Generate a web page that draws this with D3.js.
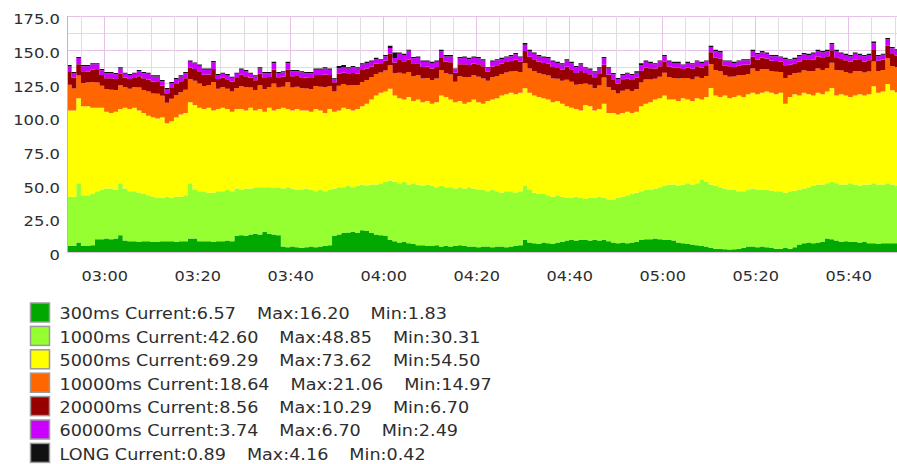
<!DOCTYPE html>
<html>
<head>
<meta charset="utf-8">
<script src="https://cdnjs.cloudflare.com/ajax/libs/d3/7.8.5/d3.min.js"></script>
<style>
  body { margin: 0; background: #fff; }
  svg { display: block; font-family: "DejaVu Sans", sans-serif; }
</style>
</head>
<body>
<svg id="chart" width="897" height="464"></svg>
<script>
// one sample per minute, first one at 02:52
const start_time = new Date(2024, 0, 1, 2, 52);
const end_time = new Date(2024, 0, 1, 5, 50, 30);

const series_names = ["300ms", "1000ms", "5000ms", "10000ms", "20000ms", "60000ms", "LONG"];
const series_colors = ["#00a800", "#96ff32", "#ffff00", "#ff6600", "#960000", "#cc00ff", "#111111"];

const ms300 = [
  4.5, 4.5, 7, 4.5, 4.5, 5, 9.5, 9.5, 10, 9.5,
  10, 12.5, 8.5, 8, 8, 7.5, 8, 8, 7.5, 7.5,
  8, 8, 8, 7.5, 8, 8, 10, 10, 8, 8,
  8, 7.5, 8, 8, 8.5, 8, 12, 12.5, 12, 13,
  13.5, 13, 15, 13.5, 13, 12.5, 4, 3.5, 4, 3.5,
  3, 3.5, 4, 3.5, 4, 4.5, 5, 12, 13, 14,
  14.5, 15, 14, 16.2, 15.5, 14, 13, 12.5, 12, 9,
  8, 7, 7.5, 6.5, 6, 5, 5, 4.5, 4.5, 5,
  4, 4.5, 4, 4.5, 5, 4.5, 4, 4, 3.5, 4,
  4, 3.5, 4, 4, 3.5, 4, 4.5, 5, 9, 7,
  6.5, 6, 7, 6.5, 6, 7, 7.5, 8.5, 9, 8.5,
  9, 9, 8.5, 9, 8.5, 9, 8, 7, 6.5, 7,
  6.5, 7, 7.5, 9, 9.5, 9.5, 10, 9.5, 9, 9,
  8.5, 7, 6.5, 6, 5.5, 5, 4.5, 4, 3, 2.5,
  2.5, 2, 1.83, 2, 2.5, 3, 4, 4, 3.5, 4,
  3.5, 3, 2.5, 2.5, 3, 2.5, 3.5, 5.5, 6.5, 7,
  6.5, 7, 7.5, 10, 9.5, 8.5, 7.5, 8, 7.5, 7.5,
  7, 7.5, 6.5, 6.5, 6, 6.5, 6.5, 6.5, 6.57
];

const ms1000 = [
  36.5, 36.5, 44, 37.5, 37.5, 38, 35.5, 36.5, 37, 37.5,
  36, 38.5, 38.5, 37, 37, 36.5, 35, 34, 33.5, 32.5,
  32, 33, 32, 33.5, 33, 34, 41, 36, 37, 37,
  36, 36.5, 37, 37, 37.5, 37, 35, 33.5, 35, 34,
  34.5, 35, 33, 34.5, 34.5, 35.5, 43, 44.5, 43, 42.5,
  43, 43.5, 42, 41.5, 42, 40.5, 41, 35, 35, 34,
  34.5, 33, 35, 33.8, 33.5, 36, 37, 38.5, 40, 44,
  44, 44, 44.5, 43.5, 45, 45, 44, 45.5, 44.5, 43,
  45, 43.5, 44, 42.5, 43, 42.5, 44, 43, 42.5, 42,
  41, 42.5, 41, 40, 41.5, 41, 39.5, 40, 40, 39,
  37.5, 37, 36, 35.5, 35, 35, 33.5, 31.5, 31, 32.5,
  31, 30.31, 31.5, 31, 32.5, 31, 31, 32, 33.5, 34,
  35.5, 36, 36.5, 36, 36.5, 36.5, 37, 38.5, 40, 41,
  41.5, 42, 43.5, 45, 44.5, 46, 48.85, 48, 47, 46.5,
  45.5, 45, 44.17, 44, 42.5, 42, 42, 43, 42.5, 42,
  42.5, 42.5, 42.5, 42.5, 41, 42.5, 42, 40.5, 40.5, 41,
  42.5, 43, 42.5, 41, 42.5, 42.5, 42.5, 42, 43.5, 42.5,
  42, 42.5, 43.5, 44.5, 44, 43.5, 44.5, 43.5, 42.6
];

const ms5000 = [
  64, 64, 63, 66, 66, 64, 62, 61, 57, 56,
  58, 55, 60, 61, 62, 61, 60, 59, 59, 59,
  60, 54.5, 57, 59, 61, 61, 60, 63, 62, 61,
  63, 61, 61, 62, 60, 59, 59, 60, 58, 60,
  57, 58, 56, 59, 57.5, 58, 60, 58, 58, 60,
  59, 58, 58, 61, 59, 58, 60, 57, 57, 59,
  57, 57, 57, 58, 61, 63, 66, 67, 67, 68,
  64, 63, 61, 65, 61, 63, 62, 62, 61, 63,
  67, 67, 65, 64, 64, 63, 63, 66, 65, 64,
  67, 67, 69, 72, 72, 73, 73, 73, 72.5, 72,
  72, 72, 71, 71, 70, 70, 69, 68, 67, 65,
  65, 69.69, 68, 65, 65, 70, 64, 64, 62, 62,
  62, 60, 60, 63, 64, 65, 66, 66, 67, 63,
  63, 63, 64, 62, 62, 63, 59.65, 63, 71.6, 67,
  67, 69, 68, 69, 71, 70, 71, 71, 71, 72,
  73, 72.5, 72, 73, 66, 70, 71.5, 70, 71, 69,
  67, 68, 67, 68, 69.6, 65, 67, 66, 64, 66,
  68, 66, 67, 72, 68, 69, 73.62, 70, 69.29
];

const ms10000 = [
  19.0, 16.3, 16.8, 17.4, 17.6, 19.0, 18.6, 16.3, 16.6, 17.3,
  16.2, 17.6, 15.2, 15.0, 15.1, 17.0, 17.2, 18.0, 17.6, 18.3,
  15.9, 15.1, 16.6, 16.4, 16.5, 17.3, 17.2, 17.9, 18.0, 17.1,
  16.6, 21.06, 15.0, 15.2, 15.0, 15.1, 15.6, 17.0, 17.1, 15.0,
  15.2, 17.6, 16.8, 15.4, 19.9, 15.9, 15.6, 19.8, 17.0, 16.6,
  16.4, 16.3, 16.8, 17.1, 17.5, 19.3, 17.0, 14.97, 18.2, 17.5,
  17.4, 18.6, 17.6, 18.1, 17.6, 16.6, 16.0, 15.1, 15.5, 17.4,
  16.5, 19.0, 19.2, 18.5, 18.4, 18.1, 17.6, 17.0, 17.5, 17.6,
  19.0, 17.5, 18.6, 15.2, 18.3, 19.6, 18.5, 18.0, 18.9, 18.6,
  15.0, 16.5, 16.4, 16.0, 16.1, 15.9, 17.3, 15.5, 18.5, 18.0,
  18.1, 17.5, 17.6, 17.9, 17.6, 16.5, 17.0, 19.7, 19.2, 18.0,
  19.6, 16.0, 16.1, 16.5, 17.4, 19.4, 19.1, 16.9, 15.5, 16.6,
  16.5, 16.4, 16.9, 17.6, 18.0, 17.0, 15.5, 16.0, 17.0, 16.5,
  16.0, 16.6, 15.0, 16.1, 16.0, 15.9, 16.0, 15.5, 17.8, 18.9,
  19.0, 15.0, 16.0, 15.1, 15.0, 16.1, 15.0, 18.0, 17.3, 17.5,
  16.5, 16.0, 16.6, 15.5, 19.1, 16.1, 15.6, 17.0, 16.8, 17.1,
  18.0, 18.1, 17.9, 17.5, 18.8, 19.0, 17.6, 17.5, 17.4, 18.0,
  17.0, 17.1, 16.9, 18.3, 16.0, 15.9, 19.0, 18.0, 18.64
];

const ms20000 = [
  9.5, 8.0, 8.4, 8.6, 8.3, 9.1, 9.4, 7.9, 8.2, 8.6,
  8.1, 8.7, 7.1, 7.2, 7.0, 8.3, 8.6, 9.0, 8.6, 8.8,
  7.6, 7.2, 8.0, 8.2, 8.1, 8.5, 8.4, 8.8, 9.0, 8.3,
  8.0, 9.7, 7.2, 7.0, 7.1, 7.2, 7.4, 8.4, 8.2, 7.3,
  7.1, 8.6, 8.2, 7.3, 10.29, 7.6, 7.5, 9.6, 8.4, 8.0,
  8.1, 7.9, 8.2, 8.2, 8.7, 9.4, 8.3, 6.9, 8.9, 8.5,
  8.6, 9.2, 8.6, 8.8, 8.5, 8.0, 7.8, 6.8, 7.5, 8.7,
  8.0, 9.4, 9.3, 9.0, 9.0, 8.8, 8.5, 8.3, 8.6, 8.5,
  9.4, 8.6, 9.1, 6.8, 9.0, 9.6, 9.2, 8.8, 9.3, 9.1,
  6.8, 8.0, 8.1, 7.8, 7.7, 7.8, 8.5, 7.5, 9.0, 8.8,
  8.8, 8.6, 8.5, 8.7, 8.5, 8.0, 8.3, 9.7, 9.3, 8.8,
  9.6, 7.8, 7.7, 8.0, 8.6, 9.5, 9.4, 8.2, 7.5, 8.0,
  8.0, 8.1, 8.3, 8.8, 8.9, 8.3, 7.5, 7.8, 8.3, 8.0,
  7.8, 8.0, 6.7, 7.7, 7.8, 7.8, 7.7, 7.5, 8.7, 9.3,
  9.4, 7.2, 7.8, 7.1, 7.2, 7.7, 7.1, 8.8, 8.5, 8.6,
  8.0, 7.8, 8.0, 7.5, 9.4, 7.7, 7.4, 8.3, 8.1, 8.2,
  8.8, 8.8, 8.9, 8.6, 9.2, 9.4, 8.5, 8.6, 8.6, 8.8,
  8.3, 8.2, 8.3, 9.0, 7.8, 7.8, 9.3, 8.8, 8.56
];

const ms60000 = [
  4.1, 3.4, 4.6, 3.8, 3.9, 4.1, 4.2, 3.6, 3.8, 3.7,
  3.5, 3.8, 2.9, 3.0, 3.1, 3.8, 3.8, 4.1, 3.9, 4.0,
  3.2, 3.0, 3.6, 3.6, 3.6, 3.8, 4.5, 4.0, 4.1, 3.7,
  3.5, 4.9, 3.0, 3.0, 3.1, 2.9, 3.2, 3.7, 3.8, 2.9,
  2.9, 3.9, 3.6, 3.0, 4.8, 3.2, 3.1, 4.6, 3.7, 3.5,
  3.6, 3.4, 3.6, 3.8, 3.9, 4.3, 3.8, 2.6, 4.1, 3.9,
  4.0, 4.2, 3.9, 4.2, 4.0, 3.5, 3.4, 2.49, 3.2, 4.2,
  3.34, 4.6, 4.5, 6.7, 4.3, 4.2, 4.0, 3.8, 4.0, 3.9,
  4.5, 3.9, 4.3, 2.58, 4.3, 4.8, 4.3, 4.2, 4.4, 4.3,
  2.6, 3.6, 3.6, 3.4, 3.4, 3.5, 3.8, 3.2, 4.6, 4.2,
  4.1, 3.9, 3.9, 4.0, 3.9, 3.6, 3.8, 4.6, 4.5, 4.2,
  4.8, 3.4, 3.4, 3.6, 4.0, 4.7, 4.5, 3.7, 3.2, 3.5,
  3.6, 3.6, 3.8, 4.1, 4.1, 3.8, 3.2, 3.4, 3.8, 3.6,
  3.4, 3.5, 2.7, 3.4, 3.4, 3.5, 3.5, 3.2, 3.9, 4.6,
  4.5, 3.0, 3.4, 3.0, 3.0, 3.4, 3.1, 4.2, 3.8, 3.9,
  3.6, 3.4, 3.5, 3.2, 4.5, 3.4, 3.2, 3.8, 3.7, 3.8,
  4.2, 4.1, 4.2, 3.9, 4.4, 4.6, 3.9, 3.9, 4.0, 4.2,
  3.8, 3.8, 3.9, 4.5, 3.4, 3.5, 4.7, 4.2, 3.74
];

const ms_long = [
  1.0, 0.8, 0.8, 0.8, 0.8, 0.8, 0.8, 0.9, 0.9, 0.9,
  0.9, 0.9, 0.8, 0.8, 0.8, 0.9, 0.9, 0.9, 0.9, 0.9,
  0.8, 0.8, 0.8, 0.8, 0.8, 0.9, 0.9, 0.9, 0.9, 0.9,
  0.9, 0.94, 0.8, 0.8, 0.8, 0.8, 0.8, 0.9, 0.9, 0.8,
  0.8, 0.9, 0.9, 0.8, 1.0, 0.8, 0.8, 1.0, 0.9, 0.9,
  0.9, 0.9, 0.9, 0.9, 0.9, 1.0, 0.9, 0.53, 1.8, 1.7,
  1.0, 1.0, 0.9, 0.9, 0.9, 0.9, 0.8, 0.61, 0.8, 1.7,
  4.16, 1.0, 1.0, 0.8, 0.9, 0.9, 0.9, 0.9, 0.9, 1.0,
  1.1, 1.0, 1.0, 0.42, 1.0, 1.0, 1.0, 1.0, 1.0, 1.0,
  0.6, 0.9, 0.9, 0.8, 0.8, 0.8, 0.9, 0.8, 1.4, 1.0,
  1.0, 1.0, 1.0, 1.0, 1.0, 0.9, 0.9, 1.0, 1.0, 1.0,
  1.0, 0.8, 0.8, 0.9, 1.0, 1.0, 1.0, 0.9, 0.8, 0.9,
  0.9, 0.9, 1.0, 1.5, 1.0, 0.9, 0.8, 0.8, 0.9, 0.9,
  0.8, 0.9, 0.6, 0.8, 0.8, 0.8, 0.8, 0.8, 1.0, 1.2,
  1.1, 0.8, 0.8, 0.8, 0.8, 0.8, 0.8, 1.0, 0.9, 1.0,
  0.9, 0.8, 0.9, 0.8, 1.0, 0.8, 0.8, 0.9, 0.9, 0.9,
  1.0, 1.0, 1.0, 1.0, 1.0, 1.0, 1.0, 1.0, 1.0, 1.0,
  0.9, 0.9, 0.9, 1.2, 0.8, 0.8, 1.0, 1.0, 0.89
];

const legend_current = ["6.57", "42.60", "69.29", "18.64", "8.56", "3.74", "0.89"];
const legend_max = ["16.20", "48.85", "73.62", "21.06", "10.29", "6.70", "4.16"];
const legend_min = ["1.83", "30.31", "54.50", "14.97", "6.70", "2.49", "0.42"];

const y_ticks = [0, 25, 50, 75, 100, 125, 150, 175];

const all_series = [ms300, ms1000, ms5000, ms10000, ms20000, ms60000, ms_long];

// build rows for the stack, one per minute
const rows = ms300.map((v, i) => {
    const row = { time: d3.timeMinute.offset(start_time, i) };
    series_names.forEach((name, k) => row[name] = all_series[k][i]);
    return row;
});
// extra row so the last step has a width
const last_row = Object.assign({}, rows[rows.length - 1]);
last_row.time = d3.timeMinute.offset(start_time, rows.length);
rows.push(last_row);

const svg = d3.select("#chart");
const plot_left = 67, plot_right = 897, plot_top = 16, plot_bottom = 252;

const xScale = d3.scaleTime().domain([start_time, end_time]).range([plot_left, plot_right]);
const yScale = d3.scaleLinear().domain([0, 175]).range([plot_bottom, plot_top]);

const minorGrid = '#e3dbe3';
const majorGrid = '#e6c3e6';
const textColor = '#2e2e2e';

// grid
const grid = svg.append('g');
d3.range(0, 175.1, 12.5).forEach(v => {
    grid.append('line')
        .attr('x1', plot_left).attr('x2', plot_right + 10)
        .attr('y1', Math.round(yScale(v)) + 0.5).attr('y2', Math.round(yScale(v)) + 0.5)
        .attr('stroke', v % 25 === 0 ? majorGrid : minorGrid);
});
xScale.ticks(d3.timeMinute.every(5)).forEach(t => {
    const major = t.getMinutes() % 20 === 0;
    grid.append('line')
        .attr('x1', Math.round(xScale(t)) + 0.5).attr('x2', Math.round(xScale(t)) + 0.5)
        .attr('y1', plot_top).attr('y2', plot_bottom)
        .attr('stroke', major ? majorGrid : minorGrid);
});

// stacked step areas
const stack = d3.stack().keys(series_names);
const layers = stack(rows);
const area = d3.area()
    .curve(d3.curveStepAfter)
    .x(d => xScale(d.data.time))
    .y0(d => yScale(d[0]))
    .y1(d => yScale(d[1]));

svg.append('g')
    .selectAll('path')
    .data(layers)
    .enter()
    .append('path')
    .attr('d', area)
    .attr('fill', (d, i) => series_colors[i]);

// left border
svg.append('line')
    .attr('x1', plot_left + 0.5).attr('x2', plot_left + 0.5)
    .attr('y1', plot_top).attr('y2', plot_bottom)
    .attr('stroke', '#cfa8df');

// Left Axis
const yAxis = svg.append('g')
    .attr('transform', `translate(${plot_left},0)`)
    .call(d3.axisLeft(yScale).tickValues(y_ticks)
        .tickFormat(d => d === 0 ? '0' : d.toFixed(1)).tickSize(0).tickPadding(6));
yAxis.select('.domain').remove();
yAxis.selectAll('.tick text')
    .attr('font-family', 'DejaVu Sans')
    .attr('font-size', 14)
    .attr('fill', textColor)
    .attr('dy', '0.55em')
    .attr('transform', 'scale(1.17,1)');

// Bottom Axis
const xAxis = svg.append('g')
    .attr('transform', `translate(0,${plot_bottom})`)
    .call(d3.axisBottom(xScale).ticks(d3.timeMinute.every(20))
        .tickFormat(d3.timeFormat('%H:%M')).tickSize(0).tickPadding(19));
xAxis.select('.domain').remove();
xAxis.selectAll('.tick text')
    .attr('font-family', 'DejaVu Sans')
    .attr('font-size', 14)
    .attr('fill', textColor)
    .attr('transform', 'scale(1.15,1)');

// legend
const legend = svg.append('g');
const legendScale = 1.1;
series_names.forEach((name, i) => {
    const top = 302.5 + 23.4 * i;
    legend.append('rect')
        .attr('x', 30.5).attr('y', top + 0.5)
        .attr('width', 19).attr('height', 19)
        .attr('fill', series_colors[i])
        .attr('stroke', '#9a9a9a')
        .attr('stroke-width', 1.5);

    const pieces = [`${name} Current:${legend_current[i]}`, `Max:${legend_max[i]}`, `Min:${legend_min[i]}`];
    let x = 59.5;
    pieces.forEach(p => {
        const t = legend.append('text')
            .attr('transform', `translate(${x},${top + 16.8}) scale(${legendScale},1)`)
            .attr('font-family', 'DejaVu Sans')
            .attr('font-size', 16)
            .attr('fill', textColor)
            .text(p);
        x += t.node().getComputedTextLength() * legendScale + 21;
    });
});
</script>
</body>
</html>
